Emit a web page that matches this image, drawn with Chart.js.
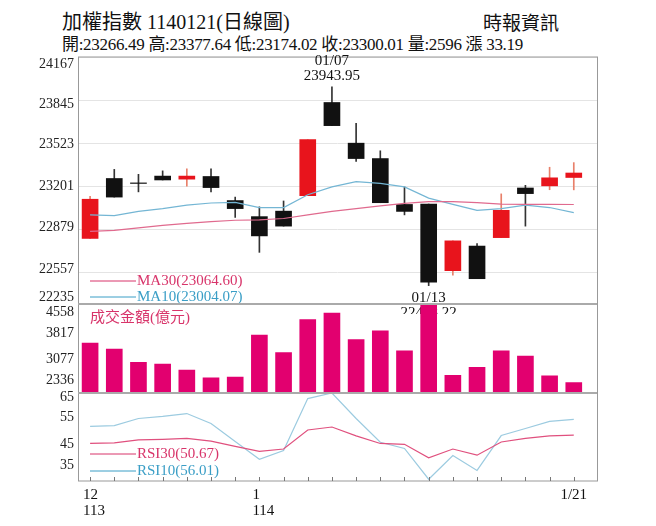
<!DOCTYPE html>
<html><head><meta charset="utf-8">
<script src="https://cdn.jsdelivr.net/npm/chart.js@4"></script>
<style>
body{margin:0;width:656px;height:526px;background:#fff;position:relative;overflow:hidden;font-family:"Liberation Serif","Noto Sans CJK TC",serif;}
canvas{position:absolute;left:0}
.t{position:absolute;white-space:nowrap;color:#111}
</style></head><body>
<div class="t" style="left:62px;top:6px;font-size:20px;">加權指數 1140121(日線圖)</div>
<div class="t" style="left:483px;top:8px;font-size:19px;">時報資訊</div>
<div class="t" style="left:62px;top:30px;font-size:17px;letter-spacing:-0.3px">開:23266.49 高:23377.64 低:23174.02 收:23300.01 量:2596 漲 33.19</div>
<div style="position:absolute;left:0;top:47px;width:656px;height:267px"><canvas id="c1"></canvas></div>
<div style="position:absolute;left:0;top:294px;width:656px;height:109px"><canvas id="c2"></canvas></div>
<div style="position:absolute;left:0;top:383px;width:656px;height:143px"><canvas id="c3"></canvas></div>
<script>
const xLabels=[{i:0,a:'12',b:'113'},{i:7,a:'1',b:'114'},{i:20,a:'1/21',b:''}];
const opens =[22811,23259,23222,23277,23254,23274,23094,22974,23015,23131,23827,23523,23408,23065,23068,22570,22754,22817,23188,23204,23266.49];
const closes=[23104,23120,23222,23248,23277,23191,23034,22830,22903,23549,23654,23408,23078,23013,22484,22793,22510,23021,23146,23264,23300.01];
const highs =[23125,23327,23290,23316,23332,23332,23120,23047,23091,23549,23943.95,23672,23466,23196,23068,22793,22772,23144,23208,23343,23377.64];
const lows  =[22811,23120,23159,23248,23201,23159,22968,22707,22903,23131,23654,23387,23078,22987,22458.22,22536,22510,22817,22903,23175,23174.02];
const ma10=[22987,22981,23013,23034,23060,23076,23081,23042,23042,23138,23196,23235,23222,23196,23112,23065,23021,23034,23060,23042,23004.07];
const ma30=[22864,22871,22890,22908,22924,22937,22947,22950,22960,22987,23013,23034,23055,23073,23086,23086,23078,23068,23065,23065,23064.60];
const volume=[3583,3434,3100,3056,2907,2714,2731,3785,3346,4171,4329,3671,3890,3390,4558,2775,2977,3390,3258,2766,2596];
const rsi10=[53.6,53.9,56.3,57,58,54.6,48.5,42.4,45.4,63.1,65,56.3,48.2,46.1,35.6,43.7,38.6,50.5,52.9,55.3,56.01];
const rsi30=[47.8,48,49,49.2,49.5,48.6,46.8,45.1,45.9,52.4,53.4,50.4,47.8,47.5,42.9,45.9,43.8,48.3,49.5,50.4,50.67];
const priceTicks=[22235,22557,22879,23201,23523,23845,24167];
const volTicks=[2336,3077,3817,4558];
const rsiTicks=[35,45,55,65];
const annots=[{i:10,top:true,a:'01/07',b:'23943.95'},{i:14,top:false,a:'01/13',b:'22458.22'}];

const RED='#e8141c',BLK='#111';
const colors=opens.map((o,i)=>closes[i]>o?RED:BLK);
const FONT='"Liberation Serif","Noto Sans CJK TC",serif';
const xs=i=>i;
const xScale={type:'linear',min:-0.5,max:20.96,display:false,offset:false};
const yBase=(ticks,min,max)=>({min,max,afterFit:s=>{s.width=78},
  afterBuildTicks:s=>{s.ticks=ticks.filter(v=>v>=min).map(v=>({value:v}));},
  ticks:{display:false},border:{display:false},grid:{display:false}});
// axis labels drawn at the reference's label positions (canvas-relative y)
const axisLabels=(labels,ys)=>({id:'axl',afterDraw(c){const ctx=c.ctx;ctx.save();ctx.fillStyle='#222';ctx.font='14px '+FONT;
  ctx.textAlign='right';ctx.textBaseline='middle';labels.forEach((l,k)=>ctx.fillText(String(l),74,ys[k]));ctx.restore();}});
const frame={id:'frame',afterDraw(c,a,o){const ctx=c.ctx,ca=c.chartArea;ctx.save();ctx.strokeStyle='#999';ctx.lineWidth=1;
  ctx.strokeRect(ca.left+0.5,ca.top,ca.right-ca.left,ca.bottom-ca.top);
  ctx.strokeStyle='#aaa';ctx.lineWidth=2;ctx.beginPath();if(o.top){ctx.moveTo(ca.left,ca.top);ctx.lineTo(ca.right,ca.top);}ctx.stroke();ctx.restore();}};
const texts=(arr)=>({id:'texts',afterDraw(c){const ctx=c.ctx;ctx.save();ctx.textBaseline='middle';
  arr.forEach(t=>{if(t.line){ctx.strokeStyle=t.color;ctx.lineWidth=1;ctx.beginPath();ctx.moveTo(90,t.y);ctx.lineTo(136,t.y);ctx.stroke();}
   ctx.fillStyle=t.color;ctx.font=(t.size||15)+'px '+FONT;ctx.textAlign=t.align||'left';ctx.fillText(t.s,t.x,t.y);});ctx.restore();}});
const base=(pad)=>({responsive:false,animation:false,maintainAspectRatio:false,layout:{padding:pad},plugins:{legend:{display:false},tooltip:{enabled:false}}});

// price
const c1=document.getElementById('c1');c1.width=656;c1.height=267;
const o1=base({top:10,bottom:10,left:0,right:59});
o1.scales={x:xScale,y:Object.assign(yBase(priceTicks,22321,24167),{grid:{color:'#e4e4e4',drawTicks:false}})};
o1.plugins.frame={top:false};
new Chart(c1,{type:'bar',data:{datasets:[
 {type:'line',data:ma30.map((v,i)=>({x:xs(i),y:v})),borderColor:'#e06a8e',borderWidth:1.2,pointRadius:0,tension:0},
 {type:'line',data:ma10.map((v,i)=>({x:xs(i),y:v})),borderColor:'#74b6d4',borderWidth:1.2,pointRadius:0,tension:0},
 {data:opens.map((o,i)=>({x:xs(i),y:[Math.min(o,closes[i]),Math.max(o,closes[i])===Math.min(o,closes[i])?o+4:Math.max(o,closes[i])]})),backgroundColor:colors,barThickness:16,grouped:false},
 {data:highs.map((h,i)=>({x:xs(i),y:[lows[i],h]})),backgroundColor:colors.map(c=>c===RED?'#e8806a':'#333'),barThickness:1,grouped:false}
]},options:o1,plugins:[frame,axisLabels(priceTicks.slice().reverse(),[17,57,97,139,180,222,250]),texts([
 {s:'MA30(23064.60)',x:137,y:281-47,color:'#d8346a',line:true},
 {s:'MA10(23004.07)',x:137,y:297-47,color:'#3a9ec6',line:true}]),
 {id:'ann',afterDraw(c){const ctx=c.ctx;ctx.save();ctx.fillStyle='#111';ctx.font='15px '+FONT;ctx.textAlign='center';ctx.textBaseline='middle';
  annots.forEach(a=>{const x=c.scales.x.getPixelForValue(a.i);const y=c.scales.y.getPixelForValue(a.top?highs[a.i]:lows[a.i]);
   if(a.top){ctx.fillText(a.a,x,y-26);ctx.fillText(a.b,x,y-11);}else{ctx.fillText(a.a,x,y+12);ctx.fillText(a.b,x,y+27);}});ctx.restore();}}]});

// volume
const c2=document.getElementById('c2');c2.width=656;c2.height=109;
const o2=base({top:10,bottom:10,left:0,right:59});
o2.scales={x:xScale,y:yBase(volTicks,2336,4558)};
o2.plugins.frame={top:true};
new Chart(c2,{type:'bar',data:{datasets:[{data:volume.map((v,i)=>({x:xs(i),y:v})),backgroundColor:'#e2006f',barThickness:16}]},
 options:o2,plugins:[frame,axisLabels(volTicks.slice().reverse(),[18,39,65,86]),texts([{s:'成交金額(億元)',x:90,y:24,color:'#d8346a',size:15}])]});

// rsi
const c3=document.getElementById('c3');c3.width=656;c3.height=143;
const o3=base({top:10,bottom:45,left:0,right:59});
o3.scales={x:xScale,y:yBase(rsiTicks,35,65)};
o3.plugins.frame={top:true};
new Chart(c3,{type:'line',data:{datasets:[
 {data:rsi30.map((v,i)=>({x:xs(i),y:v})),borderColor:'#e0507e',borderWidth:1.2,pointRadius:0},
 {data:rsi10.map((v,i)=>({x:xs(i),y:v})),borderColor:'#9ccbe0',borderWidth:1.2,pointRadius:0}]},
 options:o3,plugins:[frame,axisLabels(rsiTicks.slice().reverse(),[14,34,61,82]),texts([
 {s:'RSI30(50.67)',x:137,y:454-383,color:'#d8346a',line:true},
 {s:'RSI10(56.01)',x:137,y:471-383,color:'#3a9ec6',line:true}]),
 {id:'xlab',afterDraw(c){const ctx=c.ctx,ca=c.chartArea;ctx.save();ctx.strokeStyle='#777';ctx.lineWidth=1;
  for(let i=0;i<opens.length;i++){const x=Math.round(c.scales.x.getPixelForValue(i))+0.5;ctx.beginPath();ctx.moveTo(x,ca.bottom);ctx.lineTo(x,ca.bottom-4);ctx.stroke();}
  ctx.fillStyle='#111';ctx.font='15px '+FONT;ctx.textBaseline='middle';
  xLabels.forEach(l=>{const x=c.scales.x.getPixelForValue(l.i);ctx.textAlign=l.b?'left':'center';const xx=l.b?x-7:x;
   ctx.fillText(l.a,xx,ca.bottom+14);if(l.b)ctx.fillText(l.b,xx,ca.bottom+30);});ctx.restore();}}]});
</script></body></html>
